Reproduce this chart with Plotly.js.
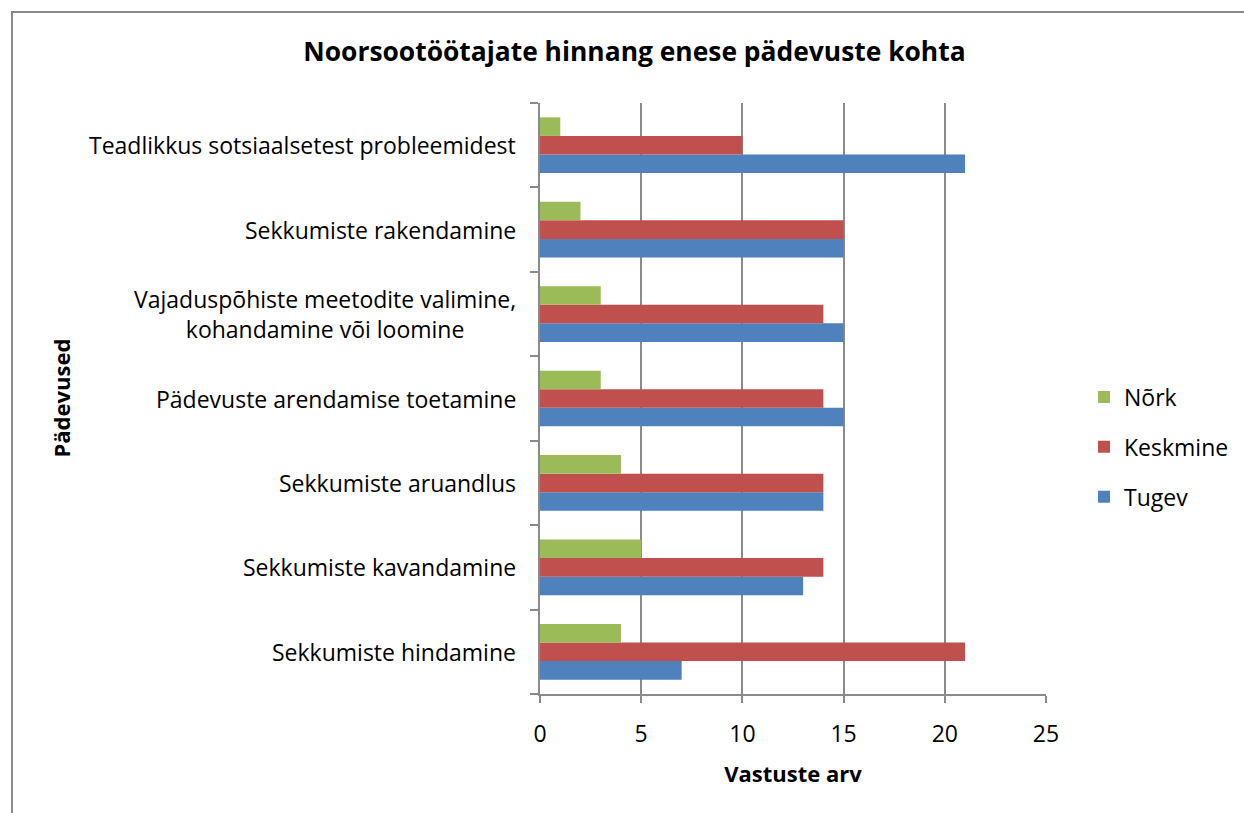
<!DOCTYPE html>
<html>
<head>
<meta charset="utf-8">
<script src="https://cdn.plot.ly/plotly-3.0.1.min.js"></script>
<style>
  html, body { margin: 0; padding: 0; background: #fff; overflow: hidden; }
  #chart { width: 1244px; height: 813px; position: absolute; left: 0; top: 0; }
  #frame { position: absolute; left: 11px; top: 11px; width: 1300px; height: 900px;
           border-left: 2px solid #8a8a8a; border-top: 2px solid #8a8a8a; pointer-events: none; }
</style>
</head>
<body>
<div id="chart"></div>
<div id="frame"></div>
<script>
// Categories listed from bottom to top
const categories = [
  "Sekkumiste hindamine",
  "Sekkumiste kavandamine",
  "Sekkumiste aruandlus",
  "Pädevuste arendamise toetamine",
  "Vajaduspõhiste meetodite valimine,<br>kohandamine või loomine",
  "Sekkumiste rakendamine",
  "Teadlikkus sotsiaalsetest probleemidest"
];
const tugev    = [7, 13, 14, 15, 15, 15, 21];
const keskmine = [21, 14, 14, 14, 14, 15, 10];
const nork     = [4, 5, 4, 3, 3, 2, 1];

const xTicks = [0, 5, 10, 15, 20, 25];

const FONT = "'Open Sans', sans-serif";
const FS = 23;

const traces = [
  { name: "Tugev", y: categories, x: tugev, type: "bar", orientation: "h",
    marker: { color: "#4F81BD" }, legendgroup: "t", legendrank: 3, hoverinfo: "x" },
  { name: "Keskmine", y: categories, x: keskmine, type: "bar", orientation: "h",
    marker: { color: "#C0504D" }, legendgroup: "k", legendrank: 2, hoverinfo: "x" },
  { name: "Nõrk", y: categories, x: nork, type: "bar", orientation: "h",
    marker: { color: "#9BBB59" }, legendgroup: "n", legendrank: 1, hoverinfo: "x" }
];

const annotations = categories.map(c => ({
  xref: "paper", yref: "y", x: 0, y: c, xshift: -22,
  xanchor: "right", yanchor: "middle", align: "center",
  text: c, showarrow: false,
  font: { family: FONT, size: FS, color: "#000" }
}));

const layout = {
  width: 1244, height: 813,
  margin: { l: 540, r: 198, t: 103, b: 119 },
  paper_bgcolor: "#fff", plot_bgcolor: "#fff",
  font: { family: FONT, size: FS, color: "#000" },
  title: { text: "<b>Noorsootöötajate hinnang enese pädevuste kohta</b>",
           font: { family: FONT, size: 26.4, color: "#000" },
           x: 0.51, xref: "container", xanchor: "center",
           y: 0.936, yref: "container", yanchor: "middle" },
  barmode: "group", bargap: 0.34, bargroupgap: 0,
  xaxis: {
    range: [0, 25], tickvals: xTicks, ticktext: xTicks.map(String),
    showgrid: true, gridcolor: "#8a8a8a", gridwidth: 2,
    showline: true, linecolor: "#8a8a8a", linewidth: 2,
    ticks: "outside", ticklen: 7, tickcolor: "#8a8a8a", tickwidth: 2,
    ticklabelstandoff: 11,
    zeroline: false, automargin: false,
    tickfont: { family: FONT, size: FS, color: "#000" },
    title: { text: "<b>Vastuste arv</b>", font: { family: FONT, size: 22, color: "#000" }, standoff: 19 }
  },
  yaxis: {
    type: "category", categoryarray: categories, categoryorder: "array",
    showticklabels: false, showgrid: false, zeroline: false, automargin: false,
    showline: true, linecolor: "#8a8a8a", linewidth: 2,
    ticks: "outside", tickson: "boundaries", ticklen: 8, tickcolor: "#8a8a8a", tickwidth: 2,
    title: { text: "" }
  },
  legend: {
    xref: "container", yref: "container",
    x: 0.8714, xanchor: "left", y: 0.4502, yanchor: "middle",
    traceorder: "grouped", tracegroupgap: 17,
    font: { family: FONT, size: FS, color: "#000" },
    itemwidth: 30, bgcolor: "rgba(0,0,0,0)"
  },
  annotations: annotations.concat([{
    xref: "paper", yref: "paper", x: 0, y: 0.5, xshift: -480,
    xanchor: "center", yanchor: "middle", textangle: -90,
    text: "<b>Pädevused</b>", showarrow: false,
    font: { family: FONT, size: 22, color: "#000" }
  }])
};

Plotly.newPlot("chart", traces, layout, { displayModeBar: false, staticPlot: true });
</script>
</body>
</html>
